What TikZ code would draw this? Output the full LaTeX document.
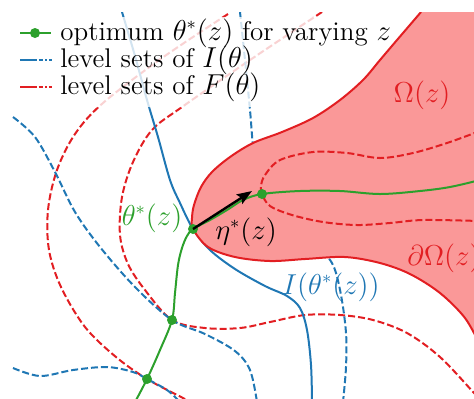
\documentclass[tikz,border=0pt]{standalone}
\usetikzlibrary{arrows.meta}
\definecolor{tblue}{RGB}{31,119,180}
\definecolor{tred}{RGB}{226,30,34}
\definecolor{tgreen}{RGB}{44,160,44}
\definecolor{tfill}{RGB}{250,152,152}
\tikzset{
  lvl/.style={line width=1pt},
  dsh/.style={line width=1pt, dash pattern=on 3.5pt off 1.5pt},
  legdash/.style={line width=1pt, dash pattern=on 8.5pt off 0.8pt on 2.3pt off 1pt on 1pt off 0.8pt on 1.8pt off 20pt},
  gdot/.style={circle, fill=tgreen, inner sep=0pt, minimum size=5pt},
  lab/.style={font=\fontsize{13.5}{16}\selectfont, inner sep=0pt},
}
\begin{document}
\begin{tikzpicture}[x=0.5pt,y=-0.5pt]
\useasboundingbox (0,0) rectangle (474,398);
\begin{scope}
\clip (0,12) rectangle (474,398);
% red dashed level sets
\draw[tred, dsh] plot[smooth, tension=0.55] coordinates {(228,14) (162,58) (103,103) (75,134) (57,170) (48,210) (49,250) (61,287) (85,327) (116,357) (147,379) (183,398) (192,403)};
\draw[tred, dsh] plot[smooth, tension=0.55] coordinates {(322,12) (250,60) (182,107) (152,130) (133,162) (122,197) (120,235) (128,264) (145,290) (172,320) (205,328) (240,328) (270,322) (305,315) (340,315) (373,320) (407,333) (440,357) (474,393) (480,400)};
% blue level sets
\draw[tblue, lvl] plot[smooth, tension=0.55] coordinates {(122,12) (135,56) (147,100) (158,137) (170,180) (180,203) (193,229) (210,250) (235,269) (265,286) (287,296) (300,308) (307,330) (311,365) (312,402)};
\draw[tblue, dsh] plot[smooth, tension=0.55] coordinates {(240,12) (245,60) (250,110) (254,155) (262,194) (272,216) (292,234) (318,248) (333,265) (341,295) (346,333) (346,367) (343,402)};
\draw[tblue, dsh] plot[smooth, tension=0.55] coordinates {(13,117) (35,137) (55,172) (75,212) (100,247) (135,287) (172,320) (205,334) (235,351) (250,370) (257,402)};
\draw[tblue, dsh] plot[smooth, tension=0.55] coordinates {(13,368) (40,376) (73,370) (107,367) (133,372) (147,379) (167,390) (180,402)};
\end{scope}
% legend background
\fill[white, opacity=0.8, rounded corners=3pt] (8,17) rectangle (392,107);
\begin{scope}
\clip (0,12) rectangle (474,398);
% region Omega
\fill[tfill] plot[smooth, tension=0.55] coordinates {(421,12) (397,40) (380,60) (363,80) (340,100) (313,118) (282,132) (253,143) (230,157) (212,172) (201,187) (194,205) (192,218) (193,229) (208,247) (235,257) (270,261) (305,259) (345,257) (380,263) (410,274) (440,293) (465,318) (480,345)} -- (480,8) -- cycle;
\draw[tred, lvl] plot[smooth, tension=0.55] coordinates {(421,12) (397,40) (380,60) (363,80) (340,100) (313,118) (282,132) (253,143) (230,157) (212,172) (201,187) (194,205) (192,218) (193,229) (208,247) (235,257) (270,261) (305,259) (345,257) (380,263) (410,274) (440,293) (465,318) (480,345)};
\draw[tred, dsh] plot[smooth, tension=0.55] coordinates {(480,131) (447,143) (413,153) (380,158) (347,153) (313,152) (280,160) (265,175) (261,186) (262,194) (270,206) (292,215) (323,222) (357,225) (390,223) (423,220) (480,221)};
% optimum path
\draw[tgreen, lvl] plot[smooth, tension=0.55] coordinates {(135,402) (147,379) (160,350) (172,320) (175,293) (178,265) (182,248) (187,236) (193,229) (210,220) (227,210) (243,200) (262,194) (300,191) (340,191) (380,194) (420,191) (450,187) (480,180)};
\end{scope}
% points
\node[gdot] (p1) at (193,229) {};
\node[gdot] (p2) at (262,194) {};
\node[gdot] (p3) at (172,320) {};
\node[gdot] (p4) at (147,379) {};
\coordinate (tip) at (252,191);
\draw[line width=1.2pt, -{Stealth[length=7.5pt,width=5.5pt,inset=1.2pt]}] (p1.center) -- (tip);
% labels
\node[lab, text=tgreen] (lt) at (152,218) {$\theta^*(z)$};
\node[lab] (le) at (246,232) {$\eta^*(z)$};
\node[lab, text=tred] (lo) at (422,95) {$\Omega(z)$};
\node[lab, text=tred, anchor=west] (ldo) at (407,258) {$\partial\Omega(z)$};
\node[lab, text=tblue] (li) at (331,287) {$I(\theta^*(z))$};
% legend
\coordinate (g1) at (20,33); \coordinate (g2) at (51,33);
\draw[tgreen, lvl] (g1) -- (g2);
\node[gdot] (gd) at (35,33) {};
\coordinate (b1) at (20,60); \coordinate (b2) at (52,60);
\draw[tblue, legdash] (b1) -- (b2);
\coordinate (r1) at (20,87); \coordinate (r2) at (52,87);
\draw[tred, legdash] (r1) -- (r2);
\node[lab, anchor=base west] (t1) at (60,40) {optimum $\theta^*(z)$ for varying $z$};
\node[lab, anchor=base west] (t2) at (60,67) {level sets of $I(\theta)$};
\node[lab, anchor=base west] (t3) at (60,94) {level sets of $F(\theta)$};
\end{tikzpicture}
\end{document}
